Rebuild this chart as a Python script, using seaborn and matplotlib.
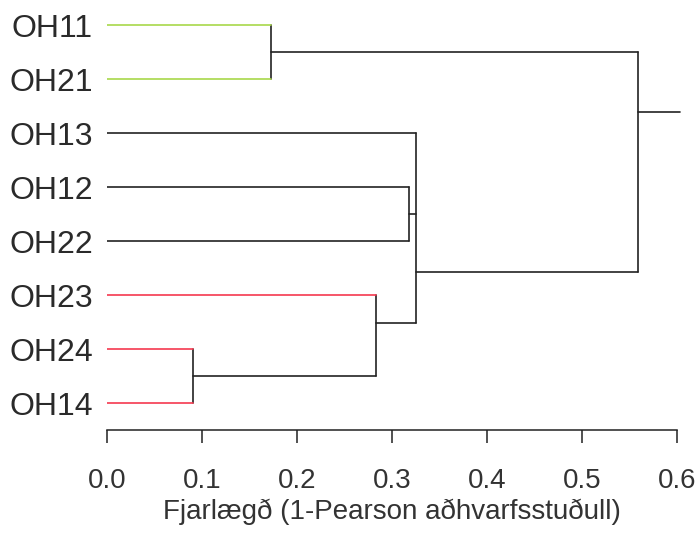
import matplotlib
matplotlib.use("Agg")
import matplotlib.pyplot as plt
import seaborn as sns

# leaves, top to bottom
labels = ["OH11", "OH21", "OH13", "OH12", "OH22", "OH23", "OH24", "OH14"]
leaf_colors = ["#A8D84A", "#A8D84A", "#222222", "#222222", "#222222",
               "#F5384F", "#F5384F", "#F5384F"]

# merges: children (leaves 0-7, merges 8+), height, y where the node hangs
merge_children = [[0, 1], [3, 4], [6, 7], [5, 10], [2, 9, 11], [8, 12]]
merge_heights = [0.173, 0.318, 0.091, 0.283, 0.325, 0.559]
merge_attach = [0.5, 3.5, 6.5, 5.52, 4.57, 1.6]
root_tip = 0.603

xticks = [0.0, 0.1, 0.2, 0.3, 0.4, 0.5, 0.6]
xlabel = "Fjarlægð (1-Pearson aðhvarfsstuðull)"

sns.set_style("white")
plt.rcParams["font.family"] = ["Liberation Sans", "DejaVu Sans"]

fig = plt.figure(figsize=(7, 5.35), dpi=100)
ax = fig.add_axes([107 / 700, 1 - 430 / 535, 570 / 700, 429 / 535])

n = len(labels)
node_y = list(range(n)) + merge_attach
node_h = [0.0] * n + merge_heights
lw = 1.2
dark = "#222222"

for i, kids in enumerate(merge_children):
    h = merge_heights[i]
    ys = [node_y[k] for k in kids]
    ax.plot([h, h], [min(ys), max(ys)], color=dark, lw=lw)
    for k in kids:
        col = leaf_colors[k] if k < n else dark
        ax.plot([node_h[k], h], [node_y[k], node_y[k]], color=col, lw=lw)

ax.plot([merge_heights[-1], root_tip], [merge_attach[-1], merge_attach[-1]],
        color=dark, lw=lw, clip_on=False)

ax.set_xlim(0, 0.6)
ax.set_ylim(7.5, -0.45)
ax.set_yticks(range(n))
ax.set_yticklabels(labels, fontsize=23, color="#2a2a2a")
ax.tick_params(axis="y", length=0, pad=10)
ax.set_xticks(xticks)
ax.set_xticklabels([f"{t:.1f}" for t in xticks], fontsize=20, color="#333333")
ax.tick_params(axis="x", direction="out", length=9, width=1.1, color=dark,
               pad=18, bottom=True)
ax.set_xlabel(xlabel, fontsize=20, color="#333333", labelpad=4)

for s in ["top", "right", "left"]:
    ax.spines[s].set_visible(False)
ax.spines["bottom"].set_color(dark)
ax.spines["bottom"].set_linewidth(1.1)
ax.spines["bottom"].set_bounds(0, 0.6)

fig.savefig("out.png", dpi=100)
